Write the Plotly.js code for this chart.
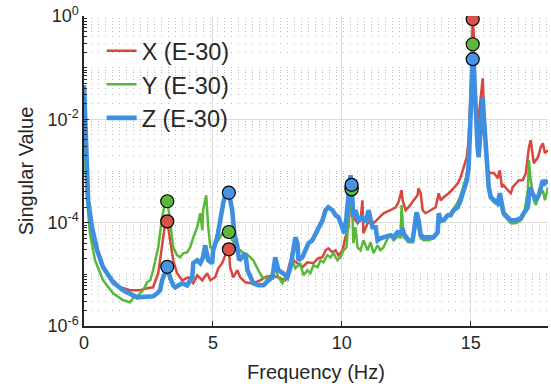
<!DOCTYPE html>
<html>
<head>
<meta charset="utf-8">
<script src="https://cdn.plot.ly/plotly-3.0.1.min.js"></script>
<style>html,body{margin:0;padding:0;background:#fff;}#chart{width:551px;height:390px;}</style>
</head>
<body>
<div id="chart"></div>
<script>
// ---- Data ----
const seriesNames = ['X (E-30)', 'Y (E-30)', 'Z (E-30)'];

const freqX = [0,0.04,0.12,0.23,0.35,0.62,1.01,1.40,1.79,2.18,
  2.45,2.68,2.88,3.03,3.15,3.23,3.34,3.46,3.61,3.73,
  3.81,4.04,4.24,4.39,4.59,4.78,4.90,5.09,5.21,5.36,
  5.48,5.62,5.67,5.79,5.95,6.06,6.26,6.45,6.65,6.84,
  7.03,7.31,7.54,7.81,8.01,8.12,8.28,8.47,8.67,8.90,
  9.09,9.25,9.37,9.48,9.64,9.76,9.87,10.03,10.14,10.26,
  10.34,10.38,10.45,10.61,10.73,10.80,10.84,11.00,11.12,11.23,
  11.43,11.62,11.78,11.89,12.09,12.20,12.32,12.36,12.48,12.59,
  12.79,12.94,12.98,13.06,13.14,13.25,13.45,13.64,13.76,13.84,
  13.95,14.15,14.34,14.50,14.61,14.73,14.85,14.92,14.96,15.00,
  15.08,15.12,15.16,15.24,15.31,15.43,15.47,15.51,15.58,15.66,
  15.78,15.90,16.05,16.13,16.21,16.28,16.44,16.56,16.63,16.75,
  16.87,17.02,17.14,17.26,17.33,17.45,17.61,17.72,17.80,17.88,
  18.0];
const valX = [0.0234,0.00345,4.85e-4,1.27e-4,4.56e-5,1.87e-5,8.77e-6,5.61e-6,4.91e-6,4.91e-6,
  5.37e-6,5.61e-6,1.05e-5,3.34e-5,9.73e-5,1.06e-4,4.56e-5,1.87e-5,1.05e-5,8.38e-6,
  7.67e-6,8.77e-6,6.70e-6,9.58e-6,7.67e-6,1.05e-5,7.67e-6,8.77e-6,1.31e-5,1.64e-5,
  2.34e-5,3.05e-5,1.37e-5,8.77e-6,1.2e-5,8.77e-6,7.01e-6,6.70e-6,7.01e-6,7.67e-6,
  8.77e-6,9.58e-6,8.77e-6,7.67e-6,1.87e-5,1.87e-5,1.64e-5,1.37e-5,1.71e-5,1.64e-5,
  2.05e-5,2.14e-5,2.92e-5,3.19e-5,2.67e-5,2.92e-5,2.34e-5,2.92e-5,5.21e-5,8.14e-5,
  2.71e-4,4.8e-4,1.27e-4,9.73e-5,1.11e-4,2.71e-4,6.23e-5,9.73e-5,1.11e-4,9.73e-5,
  1.22e-4,1.52e-4,1.66e-4,1.74e-4,1.99e-4,2.48e-4,4.24e-4,2.71e-4,1.74e-4,1.99e-4,
  2.71e-4,3.39e-4,4.64e-4,3.71e-4,1.74e-4,1.52e-4,1.74e-4,1.99e-4,3.71e-4,2.71e-4,
  3.10e-4,3.71e-4,4.64e-4,5.79e-4,7.57e-4,1.18e-3,1.85e-3,3.94e-3,9.6e-3,0.035,
  0.867,0.465,0.0234,0.00703,0.011,0.050,0.0625,0.0171,0.00394,0.00103,
  9.05e-4,9.2e-4,7.24e-4,1.03e-3,4.85e-4,5.30e-4,4.24e-4,3.71e-4,4.85e-4,5.79e-4,
  6.62e-4,6.62e-4,9.05e-4,2.88e-3,3.94e-3,1.41e-3,1.85e-3,2.88e-3,3.45e-3,2.21e-3,
  2.52e-3];

const freqY = [0,0.04,0.12,0.23,0.43,0.74,1.13,1.52,1.79,1.90,
  2.10,2.29,2.45,2.57,2.68,2.88,3.03,3.15,3.23,3.34,
  3.46,3.61,3.73,3.85,4.00,4.12,4.24,4.39,4.51,4.59,
  4.62,4.74,4.82,4.90,5.01,5.21,5.36,5.56,5.62,5.75,
  5.95,6.06,6.18,6.37,6.57,6.76,6.92,7.03,7.31,7.42,
  7.54,7.70,7.89,8.08,8.20,8.39,8.51,8.67,8.78,8.90,
  9.06,9.17,9.29,9.44,9.56,9.68,9.83,9.95,10.07,10.18,
  10.26,10.30,10.38,10.42,10.45,10.53,10.61,10.73,10.84,11.00,
  11.12,11.23,11.39,11.50,11.62,11.78,11.89,12.01,12.16,12.28,
  12.32,12.40,12.51,12.59,12.75,12.83,12.90,12.98,13.06,13.18,
  13.37,13.56,13.72,13.76,13.84,13.95,14.11,14.22,14.34,14.50,
  14.61,14.73,14.85,14.92,14.96,15.00,15.08,15.12,15.20,15.27,
  15.31,15.39,15.47,15.51,15.58,15.66,15.70,15.78,15.90,16.05,
  16.13,16.21,16.28,16.44,16.56,16.75,16.95,17.06,17.22,17.26,
  17.33,17.45,17.53,17.64,17.80,17.88,18.0];
const valY = [0.0150,0.00162,2.71e-4,6.23e-5,1.87e-5,7.67e-6,4.29e-6,3.15e-6,2.88e-6,3.44e-6,
  3.93e-6,4.91e-6,7.01e-6,7.67e-6,1.2e-5,3.34e-5,1.27e-4,2.48e-4,2.6e-4,1.11e-4,
  3.34e-5,2.34e-5,2.14e-5,2.56e-5,2.67e-5,3.34e-5,5.21e-5,8.14e-5,1.52e-4,7.13e-5,
  1.74e-4,3.39e-4,8.14e-5,3.34e-5,3.34e-5,4.56e-5,6.23e-5,6.52e-5,6.6e-5,4.56e-5,
  3.19e-5,2.92e-5,2.56e-5,2.34e-5,1.87e-5,1.2e-5,8.77e-6,8.38e-6,8.77e-6,1.37e-5,
  8.77e-6,6.70e-6,1.05e-5,1.87e-5,1.31e-5,1.64e-5,9.58e-6,1.2e-5,1.05e-5,1.50e-5,
  1.37e-5,1.87e-5,1.71e-5,2.34e-5,2.14e-5,2.56e-5,1.87e-5,2.14e-5,2.92e-5,3.34e-5,
  8.14e-5,1.74e-4,4.4e-4,8.14e-5,3.99e-5,8.14e-5,3.34e-5,2.92e-5,4.56e-5,2.92e-5,
  4.17e-5,2.56e-5,3.65e-5,2.92e-5,3.34e-5,4.99e-5,5.70e-5,4.56e-5,5.4e-5,5.21e-5,
  2.2e-4,5.21e-5,4.56e-5,4.17e-5,4.17e-5,7.79e-5,1.11e-4,7.79e-5,4.99e-5,4.56e-5,
  4.56e-5,4.99e-5,6.23e-5,1.22e-4,1.02e-4,1.11e-4,1.39e-4,1.52e-4,1.9e-4,2.48e-4,
  3.39e-4,5.30e-4,8.28e-4,1.62e-3,5.0e-3,0.0234,0.284,0.14,0.011,0.0031,
  0.00252,0.0075,0.0234,0.0096,0.0023,6.62e-4,4.24e-4,2.9e-4,2.48e-4,2.2e-4,
  3.39e-4,1.74e-4,1.39e-4,1.11e-4,9.73e-5,9.73e-5,1.11e-4,1.39e-4,4.24e-4,1.62e-3,
  6.62e-4,2.71e-4,2.2e-4,3.39e-4,4.24e-4,2.71e-4,4.85e-4];

const freqZ = [0,0.04,0.12,0.16,0.31,0.51,0.74,1.13,1.52,2.06,
  2.45,2.68,2.84,2.95,3.03,3.15,3.23,3.34,3.46,3.54,
  3.65,3.81,4.00,4.20,4.24,4.39,4.51,4.62,4.70,4.82,
  4.97,5.01,5.17,5.29,5.40,5.56,5.62,5.75,5.83,5.95,
  6.02,6.14,6.26,6.34,6.45,6.57,6.76,6.96,7.15,7.31,
  7.42,7.54,7.73,7.89,8.01,8.12,8.20,8.28,8.32,8.47,
  8.59,8.71,8.86,8.98,9.09,9.25,9.37,9.48,9.64,9.76,
  9.87,10.03,10.10,10.18,10.26,10.34,10.38,10.45,10.53,10.65,
  10.80,10.92,11.04,11.19,11.31,11.39,11.50,11.70,11.89,12.01,
  12.16,12.28,12.36,12.40,12.51,12.59,12.75,12.83,12.90,12.98,
  13.06,13.18,13.37,13.56,13.72,13.76,13.84,13.95,14.11,14.22,
  14.34,14.50,14.61,14.73,14.85,14.92,14.96,15.00,15.04,15.08,
  15.12,15.20,15.27,15.31,15.39,15.47,15.51,15.58,15.66,15.70,
  15.78,15.90,16.05,16.13,16.21,16.28,16.44,16.56,16.75,16.95,
  17.06,17.22,17.29,17.41,17.53,17.64,17.80,17.88,18.0];
const valZ = [0.0457,0.00703,0.00103,2.71e-4,8.14e-5,2.92e-5,1.37e-5,7.01e-6,4.91e-6,3.59e-6,
  3.59e-6,3.76e-6,4.29e-6,4.91e-6,7.67e-6,1.2e-5,1.4e-5,8.77e-6,6.13e-6,5.61e-6,
  6.13e-6,6.70e-6,6.13e-6,8.77e-6,1.64e-5,1.87e-5,1.64e-5,2.14e-5,3.65e-5,1.87e-5,
  1.64e-5,2.92e-5,5.21e-5,1.11e-4,2.37e-4,4.85e-4,3.8e-4,1.74e-4,6.23e-5,3.34e-5,
  1.87e-5,2.14e-5,2.56e-5,1.2e-5,8.77e-6,6.70e-6,6.13e-6,6.13e-6,7.67e-6,8.77e-6,
  2.14e-5,1.2e-5,1.05e-5,8.77e-6,1.37e-5,2.56e-5,5.21e-5,3.99e-5,1.87e-5,2.14e-5,
  2.92e-5,3.99e-5,4.56e-5,6.23e-5,8.14e-5,1.11e-4,1.74e-4,1.99e-4,1.74e-4,1.39e-4,
  1.27e-4,8.14e-5,6.23e-5,1.27e-4,2.71e-4,8.28e-4,5.4e-4,1.27e-4,1.74e-4,1.11e-4,
  1.27e-4,1.02e-4,1.74e-4,8.14e-5,8.14e-5,4.56e-5,4.99e-5,5.21e-5,5.70e-5,5.21e-5,
  6.52e-5,6.23e-5,7.79e-5,6.23e-5,5.21e-5,4.56e-5,4.56e-5,9.73e-5,1.59e-4,1.11e-4,
  5.70e-5,5.21e-5,5.21e-5,5.21e-5,6.52e-5,1.52e-4,1.11e-4,1.11e-4,1.39e-4,1.39e-4,
  1.74e-4,1.99e-4,2.71e-4,4.24e-4,6.62e-4,1.18e-3,3.94e-3,0.0131,0.05,0.146,
  0.102,0.011,0.00288,0.00185,0.00538,0.0268,0.011,0.00252,7.57e-4,4.85e-4,
  3.10e-4,2.71e-4,2.37e-4,3.71e-4,1.99e-4,1.52e-4,1.27e-4,1.11e-4,1.11e-4,1.22e-4,
  1.52e-4,1.99e-4,4.85e-4,3.71e-4,2.71e-4,3.39e-4,6.62e-4,5.79e-4,6.62e-4];

// Picked peaks (markers)
const peakFreq = [3.23, 5.62, 10.38, 15.08];
const peakX = [1.06e-4, 3.05e-5, 4.8e-4, 0.867];
const peakY = [2.6e-4, 6.6e-5, 4.4e-4, 0.284];
const peakZ = [1.4e-5, 3.8e-4, 5.4e-4, 0.146];

// Axis ticks
const xTickVals = [0, 5, 10, 15];
const yTickVals = [1e-6, 1e-4, 1e-2, 1];
const yTickText = ['10<sup>-6</sup>', '10<sup>-4</sup>', '10<sup>-2</sup>', '10<sup>0</sup>'];

// ---- Styling ----
const cRed = '#D9463B', cGreen = '#58B83A', cBlue = '#3F8FE0';
const mRed = '#D9524A', mGreen = '#5CB83C', mBlue = '#4A93DE';
const FONT = 'Liberation Sans, Arial, Helvetica, sans-serif';
const ink = '#262626';

const minorVals = [];
for (let e = -6; e < 0; e++) for (let d = 2; d <= 9; d++) minorVals.push(d * Math.pow(10, e));
for (const e of [-5, -3, -1]) minorVals.push(Math.pow(10, e));

function line(x, y, name, color, width) {
  return {x, y, name, type: 'scatter', mode: 'lines',
    line: {color, width, shape: 'linear'}, hoverinfo: 'skip'};
}
function dots(y, color) {
  return {x: peakFreq, y, type: 'scatter', mode: 'markers', showlegend: false,
    marker: {size: 13, color, line: {color: '#000', width: 1.2}}, hoverinfo: 'skip'};
}

const traces = [
  line(freqX, valX, seriesNames[0], cRed, 2.5),
  line(freqY, valY, seriesNames[1], cGreen, 2.5),
  line(freqZ, valZ, seriesNames[2], cBlue, 4.6),
  dots(peakX, mRed),
  dots(peakY, mGreen),
  dots(peakZ, mBlue)
];

const layout = {
  width: 551, height: 390,
  margin: {l: 84, r: 3, t: 16, b: 64},
  paper_bgcolor: '#fff', plot_bgcolor: '#fff',
  font: {family: FONT, color: ink, size: 18},
  showlegend: true,
  legend: {x: 0.038, y: 0.958, xanchor: 'left', yanchor: 'top', bgcolor: 'rgba(0,0,0,0)',
    font: {family: FONT, size: 23.5, color: ink}, borderwidth: 0},
  xaxis: {
    range: [0, 18], tickmode: 'array', tickvals: xTickVals, ticktext: xTickVals.map(String),
    ticks: 'inside', ticklen: 5, tickwidth: 1.2, tickcolor: ink,
    showline: true, linecolor: ink, linewidth: 1.6, mirror: false,
    showgrid: true, gridcolor: '#dcdcdc', gridwidth: 1, zeroline: false,
    tickfont: {family: FONT, size: 18, color: ink},
    title: {text: 'Frequency (Hz)', font: {family: FONT, size: 20, color: ink}, standoff: 13}
  },
  yaxis: {
    type: 'log', range: [-6, 0], tickmode: 'array', tickvals: yTickVals, ticktext: yTickText,
    ticks: 'inside', ticklen: 5, tickwidth: 1.2, tickcolor: ink,
    showline: true, linecolor: ink, linewidth: 1.6, mirror: false,
    showgrid: true, gridcolor: '#dcdcdc', gridwidth: 1, zeroline: false,
    tickfont: {family: FONT, size: 18, color: ink},
    title: {text: 'Singular Value', font: {family: FONT, size: 20, color: ink}, standoff: 8},
    minor: {tickmode: 'array', tickvals: minorVals, ticks: 'inside', ticklen: 3, tickwidth: 1,
      tickcolor: ink, showgrid: true, gridcolor: '#bcbcbc', gridwidth: 1, griddash: '1px,6px'}
  }
};

Plotly.newPlot('chart', traces, layout, {displayModeBar: false, staticPlot: true});
</script>
</body>
</html>
